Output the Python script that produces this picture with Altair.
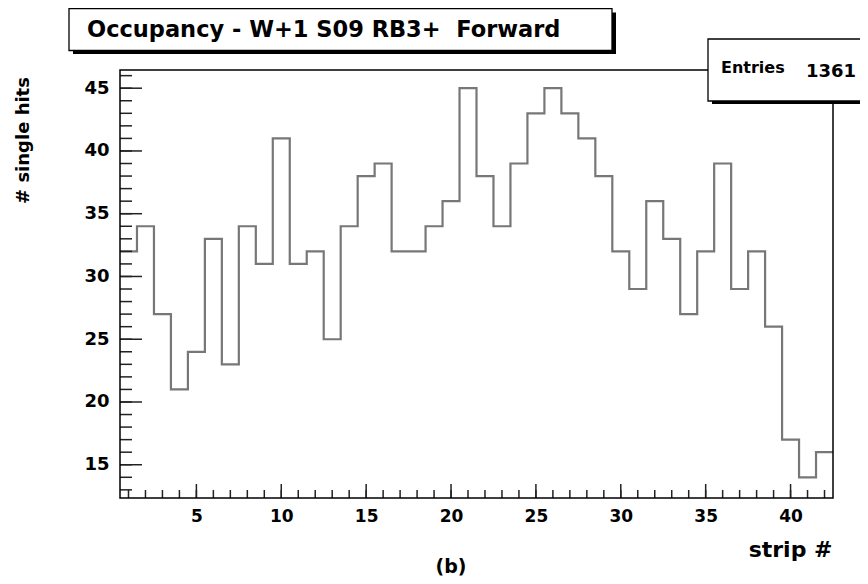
import altair as alt
import pandas as pd

# ---------------- data ----------------
strips = list(range(1, 43))
hits = [32, 34, 27, 21, 24, 33, 23, 34, 31, 41,
        31, 32, 25, 34, 38, 39, 32, 32, 34, 36,
        45, 38, 34, 39, 43, 45, 43, 41, 38, 32,
        29, 36, 33, 27, 32, 39, 29, 32, 26, 17,
        14, 16]
x_labels = [5, 10, 15, 20, 25, 30, 35, 40]
y_labels = [15, 20, 25, 30, 35, 40, 45]
x_minor = list(range(1, 43))
y_minor = list(range(13, 47))
title_text = "Occupancy - W+1 S09 RB3+\u00a0\u00a0Forward"
entries_label = "Entries"
entries_value = "1361"
x_title = "strip #"
y_title = "# single hits"
caption = "(b)"

# ---------------- layout ----------------
W, H = 713, 428
FONT = "DejaVu Sans"
xs = alt.Scale(domain=[0.5, 42.5], nice=False, zero=False)
ys = alt.Scale(domain=[12.35, 46.45], nice=False, zero=False)

x_axis = alt.Axis(
    values=x_labels, format="d", ticks=False, domain=False, grid=False,
    labelFont=FONT, labelFontWeight="bold", labelFontSize=17, labelColor="black",
    labelPadding=10, labelFlush=False,
    title=x_title, titleFont=FONT, titleFontWeight="bold", titleFontSize=22,
    titleColor="black", titleAlign="right", titleBaseline="alphabetic",
    titleX=W - 1, titleY=58)
y_axis = alt.Axis(
    values=y_labels, format="d", ticks=False, domain=False, grid=False,
    labelFont=FONT, labelFontWeight="bold", labelFontSize=18, labelColor="black",
    labelPadding=11, labelFlush=False,
    title=y_title, titleFont=FONT, titleFontWeight="bold", titleFontSize=18,
    titleColor="black", titleAngle=270, titleAlign="center",
    titleBaseline="alphabetic", titleX=-91.5, titleY=70)

edges = [s - 0.5 for s in strips] + [strips[-1] + 0.5]
vals = hits + [hits[-1]]
hist_df = pd.DataFrame({"edge": edges, "hits": vals})
one = pd.DataFrame({"k": [0]})

hist = alt.Chart(hist_df).mark_line(
    interpolate="step-after", color="#777777", strokeWidth=2.2
).encode(
    x=alt.X("edge:Q", scale=xs, axis=x_axis),
    y=alt.Y("hits:Q", scale=ys, axis=y_axis),
)

tick_color = "#222222"
x_minor_ticks = alt.Chart(pd.DataFrame({"t": x_minor})).mark_rule(
    color=tick_color, strokeWidth=1.5).encode(
    x=alt.X("t:Q", scale=xs, axis=x_axis), y=alt.value(H), y2=alt.value(H - 8))
x_major_ticks = alt.Chart(pd.DataFrame({"t": x_labels})).mark_rule(
    color=tick_color, strokeWidth=1.5).encode(
    x=alt.X("t:Q", scale=xs, axis=x_axis), y=alt.value(H), y2=alt.value(H - 14))
y_minor_ticks = alt.Chart(pd.DataFrame({"t": y_minor})).mark_rule(
    color=tick_color, strokeWidth=1.5).encode(
    y=alt.Y("t:Q", scale=ys, axis=y_axis), x=alt.value(0), x2=alt.value(12))
y_major_ticks = alt.Chart(pd.DataFrame({"t": y_labels})).mark_rule(
    color=tick_color, strokeWidth=1.5).encode(
    y=alt.Y("t:Q", scale=ys, axis=y_axis), x=alt.value(0), x2=alt.value(22))

frame = alt.Chart(one).mark_rect(
    fillOpacity=0, stroke="black", strokeWidth=1.5).encode(
    x=alt.value(0), x2=alt.value(W), y=alt.value(0), y2=alt.value(H))

# title pave
title_shadow = alt.Chart(one).mark_rect(fill="black").encode(
    x=alt.value(-47), x2=alt.value(496), y=alt.value(-57.5), y2=alt.value(-16))
title_box = alt.Chart(one).mark_rect(fill="white", stroke="black", strokeWidth=1.3).encode(
    x=alt.value(-51), x2=alt.value(492), y=alt.value(-61.5), y2=alt.value(-19.5))
title_mark = alt.Chart(one).mark_text(
    text=title_text, font=FONT, fontWeight="bold", fontSize=22.5, color="black",
    align="left", baseline="alphabetic").encode(x=alt.value(-33), y=alt.value(-33))

# stats pave
stats_shadow = alt.Chart(one).mark_rect(fill="black").encode(
    x=alt.value(592), x2=alt.value(780), y=alt.value(-27), y2=alt.value(34))
stats_box = alt.Chart(one).mark_rect(fill="white", stroke="black", strokeWidth=1.3).encode(
    x=alt.value(588), x2=alt.value(776), y=alt.value(-31), y2=alt.value(31))
stats_label = alt.Chart(one).mark_text(
    text=entries_label, font=FONT, fontWeight="bold", fontSize=16, color="black",
    align="left", baseline="alphabetic").encode(x=alt.value(601), y=alt.value(3))
stats_value = alt.Chart(one).mark_text(
    text=entries_value, font=FONT, fontWeight="bold", fontSize=18, color="black",
    align="left", baseline="alphabetic").encode(x=alt.value(686), y=alt.value(6.5))

caption_mark = alt.Chart(one).mark_text(
    text=caption, font=FONT, fontWeight="bold", fontSize=19, color="black",
    align="center", baseline="alphabetic").encode(x=alt.value(331), y=alt.value(503))

chart = alt.layer(
    hist, x_minor_ticks, x_major_ticks, y_minor_ticks, y_major_ticks, frame,
    title_shadow, title_box, title_mark,
    stats_shadow, stats_box, stats_label, stats_value, caption_mark,
).properties(
    width=W, height=H,
    autosize=alt.AutoSizeParams(type="none"),
    padding={"left": 112, "top": 62, "right": 27, "bottom": 82},
    background="white",
).configure_view(stroke=None)

chart.save("out.html", embed_options={"renderer": "svg", "actions": False})
